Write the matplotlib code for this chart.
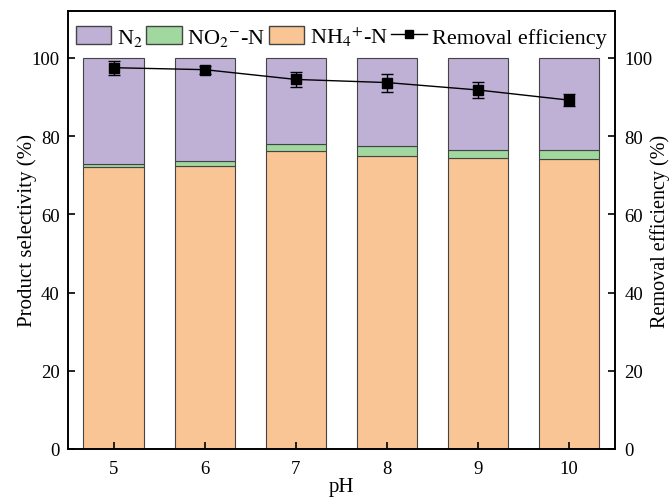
import matplotlib.pyplot as plt
from matplotlib.patches import Patch
from matplotlib.lines import Line2D
import numpy as np

plt.rcParams['font.family'] = ['Liberation Serif', 'DejaVu Serif']
plt.rcParams['mathtext.fontset'] = 'stix'

ph = [5, 6, 7, 8, 9, 10]
nh4 = [72.2, 72.4, 76.2, 74.8, 74.3, 74.1]
no2 = [0.7, 1.3, 1.9, 2.6, 2.2, 2.4]
removal = [97.5, 97.0, 94.5, 93.7, 91.8, 89.2]
removal_err = [1.8, 1.0, 2.0, 2.3, 2.0, 1.6]

c_n2 = '#bfb0d6'
c_no2 = '#a0d8a0'
c_nh4 = '#f9c594'

fig = plt.figure(figsize=(6.71, 5.02), dpi=100)
ax = fig.add_axes([0.1013, 0.1036, 0.815, 0.8725])

nh4 = np.array(nh4)
no2 = np.array(no2)
n2 = 100 - nh4 - no2
w = 0.66
ax.bar(ph, nh4, w, color=c_nh4, edgecolor='#444444', linewidth=0.8)
ax.bar(ph, no2, w, bottom=nh4, color=c_no2, edgecolor='#444444', linewidth=0.8)
ax.bar(ph, n2, w, bottom=nh4 + no2, color=c_n2, edgecolor='#444444', linewidth=0.8)

ax2 = ax.twinx()
ax2.errorbar(ph, removal, yerr=removal_err, color='black', marker='s', markersize=7,
             linewidth=1.0, capsize=4, elinewidth=1.0, capthick=1.0)

for a in (ax, ax2):
    a.set_ylim(0, 112)
    a.set_yticks([0, 20, 40, 60, 80, 100])
    a.tick_params(direction='in', labelsize=13.5, length=5, width=1.2)
    for s in a.spines.values():
        s.set_linewidth(1.2)
ax.set_xlim(4.5, 10.5)
ax.set_xticks(ph)
ax.tick_params(axis='x', pad=8)
ax.tick_params(axis='y', pad=6)
ax2.tick_params(axis='y', pad=7)

ax.set_xlabel('pH', fontsize=15, labelpad=0)
ax.set_ylabel('Product selectivity (%)', fontsize=15)
ax2.set_ylabel('Removal efficiency (%)', fontsize=14.5)
ax.yaxis.set_label_coords(-0.056, 0.5)
ax2.yaxis.set_label_coords(1.064, 0.5)

handles = [
    Patch(facecolor=c_n2, edgecolor='#444444'),
    Patch(facecolor=c_no2, edgecolor='#444444'),
    Patch(facecolor=c_nh4, edgecolor='#444444'),
    Line2D([], [], color='black', marker='s', markersize=6, linewidth=1.0),
]
labels = [r'N$_2$', r'NO$_2$$^{-}$-N', r'NH$_4$$^{+}$-N', 'Removal efficiency']
ax.legend(handles, labels, loc='upper center', ncol=4, frameon=False, fontsize=16,
          handlelength=1.6, handleheight=0.9, columnspacing=0.15, handletextpad=0.25,
          borderaxespad=0.2, bbox_to_anchor=(0.5, 1.0))

fig.savefig('out.png', dpi=100)
